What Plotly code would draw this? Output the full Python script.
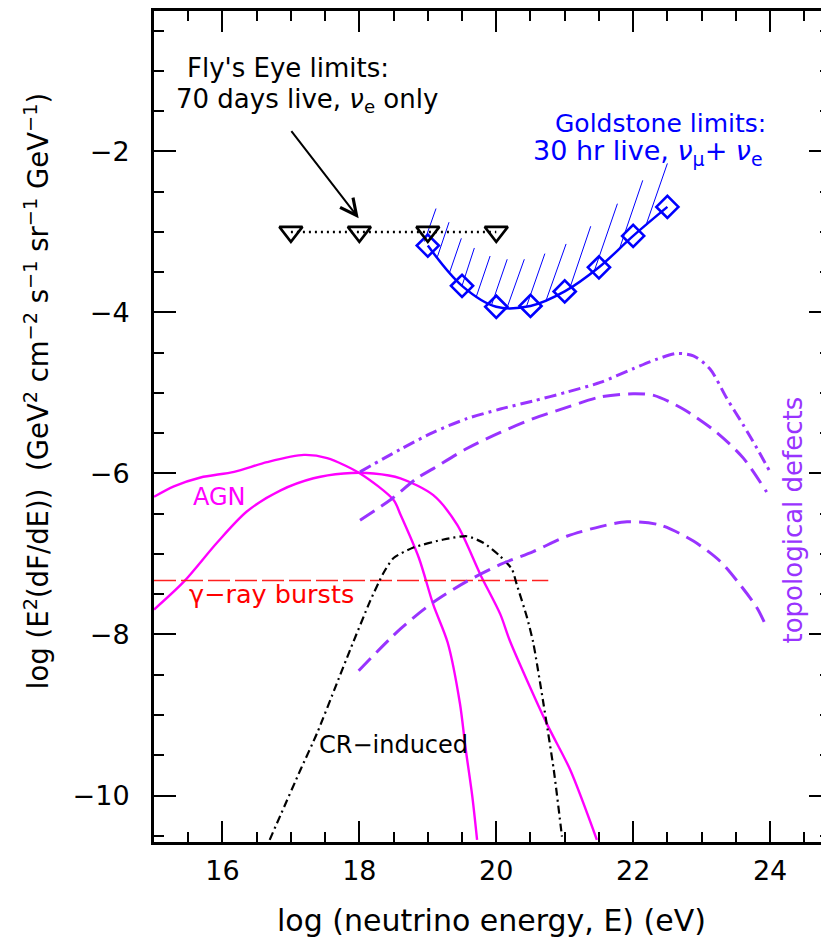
import plotly.graph_objects as go

# ---------------- data ----------------
fly_x = [17, 18, 19, 20]
fly_y = [-3, -3, -3, -3]

gold_x = [19.0, 19.5, 20.0, 20.5, 21.0, 21.5, 22.0, 22.5]
gold_y = [-3.17, -3.67, -3.93, -3.92, -3.74, -3.44, -3.05, -2.69]

hatch_x0 = [18.95, 19.14, 19.32, 19.50, 19.71, 19.93, 20.15, 20.44, 20.72, 21.07, 21.43, 21.80, 22.19]
hatch_y0 = [-3.12, -3.31, -3.50, -3.67, -3.80, -3.91, -3.96, -3.93, -3.87, -3.71, -3.49, -3.21, -2.91]
hatch_x1 = [19.12, 19.31, 19.49, 19.68, 19.91, 20.16, 20.41, 20.71, 21.02, 21.38, 21.77, 22.14, 22.50]
hatch_y1 = [-2.71, -2.88, -3.08, -3.20, -3.30, -3.34, -3.34, -3.27, -3.15, -2.93, -2.65, -2.36, -2.15]

agn1_x = [15.0, 15.29, 15.68, 16.17, 16.65, 17.19, 17.53, 18.01, 18.50, 18.60, 18.87, 19.08, 19.29, 19.47, 19.55, 19.65, 19.72]
agn1_y = [-6.29, -6.16, -6.05, -5.98, -5.86, -5.77, -5.81, -6.00, -6.33, -6.51, -7.05, -7.63, -8.10, -8.86, -9.40, -10.01, -10.55]

agn2_x = [15.0, 15.44, 15.92, 16.36, 16.85, 17.33, 17.77, 18.21, 18.60, 19.08, 19.43, 19.77, 20.06, 20.20, 20.74, 21.08, 21.47]
agn2_y = [-7.69, -7.34, -6.86, -6.47, -6.21, -6.06, -6.00, -6.00, -6.06, -6.27, -6.64, -7.26, -7.75, -8.08, -9.11, -9.68, -10.55]

grb_x = [15.0, 20.76]
grb_y = [-7.33, -7.33]

cr_x = [16.69, 16.85, 17.14, 17.38, 17.67, 17.87, 18.16, 18.35, 18.50, 18.79, 19.23, 19.57, 19.81, 20.06, 20.23, 20.30, 20.45, 20.54, 20.69, 20.84, 20.96]
cr_y = [-10.55, -10.24, -9.68, -9.23, -8.61, -8.18, -7.58, -7.24, -7.05, -6.92, -6.82, -6.78, -6.86, -7.03, -7.19, -7.38, -7.79, -8.10, -8.86, -9.68, -10.51]

td1_x = [18.01, 18.60, 19.08, 19.57, 20.06, 20.54, 21.03, 21.52, 22.00, 22.35, 22.64, 22.88, 23.12, 23.37, 23.61, 23.81, 24.00]
td1_y = [-5.98, -5.70, -5.49, -5.32, -5.20, -5.10, -4.99, -4.87, -4.70, -4.58, -4.51, -4.54, -4.70, -5.07, -5.40, -5.69, -5.98]

td2_x = [18.01, 18.45, 18.84, 19.08, 19.57, 20.06, 20.54, 21.03, 21.52, 22.00, 22.30, 22.73, 23.22, 23.61, 23.95]
td2_y = [-6.58, -6.33, -6.06, -5.94, -5.69, -5.49, -5.32, -5.18, -5.05, -5.01, -5.03, -5.20, -5.49, -5.81, -6.23]

td3_x = [17.99, 18.60, 19.08, 19.57, 20.06, 20.54, 21.03, 21.52, 21.91, 22.39, 22.88, 23.27, 23.56, 23.81, 23.95]
td3_y = [-8.45, -7.93, -7.60, -7.34, -7.13, -6.97, -6.78, -6.66, -6.60, -6.64, -6.84, -7.09, -7.38, -7.67, -7.91]

x_ticks = [16, 18, 20, 22, 24]
x_ticktext = ["16", "18", "20", "22", "24"]
y_ticks = [-10, -8, -6, -4, -2]
y_ticktext = ["\u221210", "\u22128", "\u22126", "\u22124", "\u22122"]

X_RANGE = [15, 24.861]
Y_RANGE = [-10.577, -0.257]

# ---------------- styles ----------------
FONT = "DejaVu Sans"
PURPLE = "#9933FF"
MAGENTA = "#FF00FF"
BLUE = "#0000FF"

fig = go.Figure()

hx, hy = [], []
for a, b, c, d in zip(hatch_x0, hatch_y0, hatch_x1, hatch_y1):
    hx += [a, c, None]
    hy += [b, d, None]
fig.add_trace(go.Scatter(x=hx, y=hy, mode="lines", line=dict(color=BLUE, width=1)))

fig.add_trace(go.Scatter(x=agn1_x, y=agn1_y, mode="lines", line=dict(color=MAGENTA, width=2.4, shape="spline", smoothing=0.8)))
fig.add_trace(go.Scatter(x=agn2_x, y=agn2_y, mode="lines", line=dict(color=MAGENTA, width=2.4, shape="spline", smoothing=0.8)))
fig.add_trace(go.Scatter(x=grb_x, y=grb_y, mode="lines", line=dict(color="#FF2020", width=1.5, dash="22px,5px")))
fig.add_trace(go.Scatter(x=cr_x, y=cr_y, mode="lines", line=dict(color="black", width=2.2, dash="8px,4px,2px,4px", shape="spline", smoothing=0.6)))
fig.add_trace(go.Scatter(x=td1_x, y=td1_y, mode="lines", line=dict(color=PURPLE, width=3, dash="12px,5px,3px,5px", shape="spline", smoothing=0.8)))
fig.add_trace(go.Scatter(x=td2_x, y=td2_y, mode="lines", line=dict(color=PURPLE, width=3, dash="17px,8px", shape="spline", smoothing=0.8)))
fig.add_trace(go.Scatter(x=td3_x, y=td3_y, mode="lines", line=dict(color=PURPLE, width=3, dash="17px,8px", shape="spline", smoothing=0.8)))

fig.add_trace(go.Scatter(x=gold_x, y=gold_y, mode="lines+markers",
                         line=dict(color=BLUE, width=2.5, shape="spline", smoothing=1.0),
                         marker=dict(symbol="diamond-open", size=17, color=BLUE, line=dict(width=2.6, color=BLUE))))
fig.add_trace(go.Scatter(x=fly_x, y=fly_y, mode="lines+markers",
                         line=dict(color="black", width=2.5, dash="2px,4px"),
                         marker=dict(symbol="triangle-down-open", size=20, color="black", line=dict(width=2.6, color="black"))))
# carrier for the right-hand tick axis
fig.add_trace(go.Scatter(x=fly_x, y=fly_y, yaxis="y2", mode="markers", marker=dict(opacity=0), hoverinfo="skip"))

ann = []
def txt(x, y, s, color="black", size=24, xanchor="center", angle=0):
    ann.append(dict(x=x, y=y, xref="x", yref="y", text=s, showarrow=False, xanchor=xanchor, yanchor="middle",
                    textangle=angle, font=dict(family=FONT, size=size, color=color)))

txt(16.96, -0.96, "Fly's Eye limits:", size=26)
txt(17.23, -1.37, "70 days live, <i>\u03bd</i><sub>e</sub> only", size=26)
txt(23.97, -1.65, "Goldstone limits:", color=BLUE, xanchor="right", size=25)
txt(23.93, -2.01, "30 hr live, <i>\u03bd</i><sub>\u03bc</sub>+ <i>\u03bd</i><sub>e</sub>", color=BLUE, xanchor="right", size=27)
txt(15.95, -6.29, "AGN", color=MAGENTA)
txt(16.71, -7.50, "\u03b3\u2212ray bursts", color="#FF0000", size=25.5)
txt(18.50, -9.37, "CR\u2212induced")
txt(24.34, -6.58, "topological defects", color=PURPLE, angle=-90, size=26)

ann.append(dict(x=17.99, y=-2.83, ax=16.99, ay=-1.73, xref="x", yref="y", axref="x", ayref="y",
                showarrow=True, arrowhead=5, arrowsize=1.6, arrowwidth=2, arrowcolor="black", text=""))

# axis titles (paper coordinates)
ann.append(dict(x=0.5, y=-0.0944, xref="paper", yref="paper", showarrow=False, xanchor="center", yanchor="middle",
                text="log (neutrino energy, E) (eV)", font=dict(family=FONT, size=30, color="black")))
ann.append(dict(x=-0.174, y=0.542, xref="paper", yref="paper", showarrow=False, xanchor="center", yanchor="middle",
                textangle=-90,
                text="log (E<sup>2</sup>(dF/dE))  (GeV<sup>2</sup> cm<sup>\u22122</sup> s<sup>\u22121</sup> sr<sup>\u22121</sup> GeV<sup>\u22121</sup>)",
                font=dict(family=FONT, size=27.5, color="black")))

fig.update_layout(
    width=821, height=929,
    margin=dict(l=145.5, r=0, t=2.5, b=94.5, autoexpand=False),
    paper_bgcolor="white", plot_bgcolor="white",
    showlegend=False,
    annotations=ann,
    xaxis=dict(range=X_RANGE, showgrid=False, zeroline=False, showline=True, linewidth=3, linecolor="black",
               mirror="ticks", ticks="inside", ticklen=21, tickwidth=2, tickcolor="black",
               tickmode="array", tickvals=x_ticks, ticktext=x_ticktext, ticklabelstandoff=3,
               tickfont=dict(family=FONT, size=27, color="black"),
               minor=dict(tick0=15, dtick=0.5, ticks="inside", ticklen=10, tickwidth=1.5, tickcolor="black", showgrid=False)),
    yaxis=dict(range=Y_RANGE, showgrid=False, zeroline=False, showline=True, linewidth=3, linecolor="black",
               mirror=False, ticks="inside", ticklen=22, tickwidth=2, tickcolor="black",
               tickmode="array", tickvals=y_ticks, ticktext=y_ticktext, ticklabelstandoff=16,
               tickfont=dict(family=FONT, size=27, color="black"),
               minor=dict(tick0=-10, dtick=0.5, ticks="inside", ticklen=10, tickwidth=1.5, tickcolor="black", showgrid=False)),
    yaxis2=dict(range=Y_RANGE, overlaying="y", side="right", anchor="x", showgrid=False, zeroline=False,
                showline=False, showticklabels=False, ticks="inside", ticklen=20, tickwidth=2, tickcolor="black",
                tickmode="array", tickvals=y_ticks,
                minor=dict(tick0=-10, dtick=0.5, ticks="inside", ticklen=9, tickwidth=1.5, tickcolor="black", showgrid=False)),
)

fig.write_html("out.html")
